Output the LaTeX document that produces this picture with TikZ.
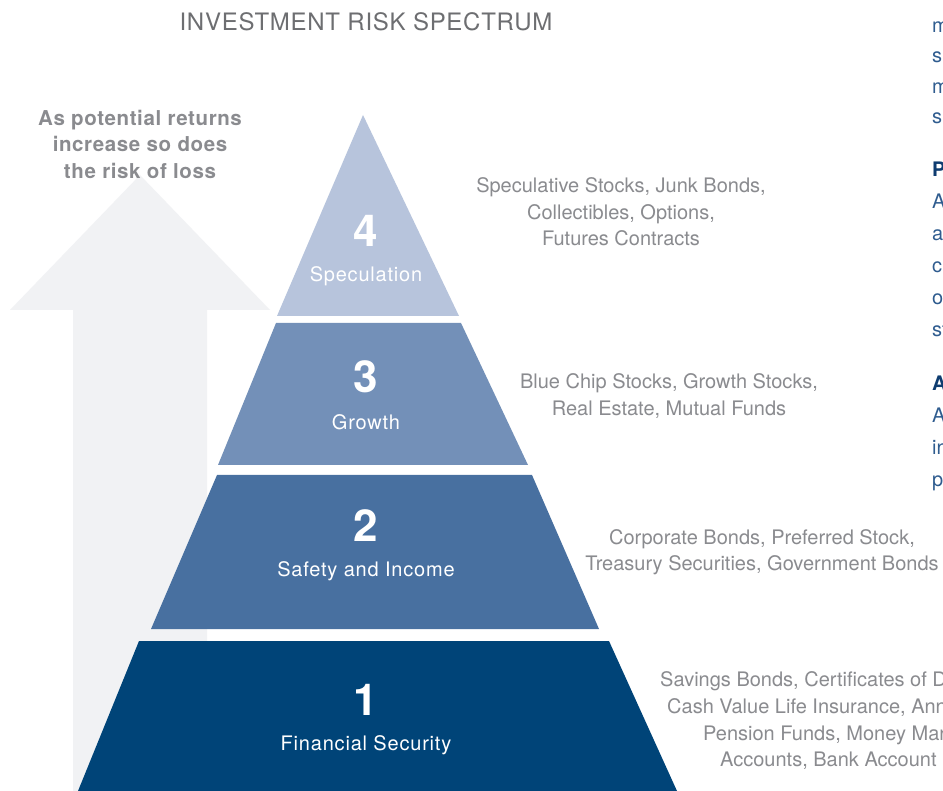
\documentclass[tikz,border=0pt]{standalone}
\usepackage{fontspec}
\setmainfont{TeX Gyre Heros}
\newfontfamily\widefont[LetterSpace=4]{TeX Gyre Heros}
\newfontfamily\notefont[LetterSpace=3]{TeX Gyre Heros}
\usetikzlibrary{calc}
\definecolor{arrowgray}{HTML}{F1F2F4}
\definecolor{textgray}{HTML}{8A8B8F}
\definecolor{titlegray}{HTML}{6D6E71}
\definecolor{tierone}{HTML}{004478}
\definecolor{tiertwo}{HTML}{4870A0}
\definecolor{tierthree}{HTML}{7390B8}
\definecolor{tierfour}{HTML}{B7C4DC}
\definecolor{colblue}{HTML}{2F5C8F}
\definecolor{colnavy}{HTML}{0E3C70}

\begin{document}
\begin{tikzpicture}[x=1pt,y=-1pt,
	num/.style={text=white,font=\fontsize{44}{44}\selectfont\bfseries,inner sep=0pt},
	lab/.style={text=white,font=\widefont\fontsize{20}{24}\selectfont,inner sep=0pt},
	desc/.style={text=textgray,font=\fontsize{20}{26.5}\selectfont,align=center,inner sep=0pt},
	col/.style={text=colblue,font=\fontsize{20}{24}\selectfont,anchor=base west,inner sep=0pt}]
	\useasboundingbox (0,0) rectangle (943,791);
	\fill[white] (0,0) rectangle (943,791);

	\fill[arrowgray] (73,791) -- (73,310) -- (10,310) -- (140,175) -- (270,310) -- (207,310) -- (207,791) -- cycle;

	\fill[tierfour] (363,115) -- (459,316) -- (277,316) -- cycle;
	\fill[tierthree] (276,323) -- (461,323) -- (528,465) -- (218,465) -- cycle;
	\fill[tiertwo] (217,475) -- (532,475) -- (599,629) -- (151,629) -- cycle;
	\fill[tierone] (139,641) -- (609,641) -- (677,791) -- (78,791) -- cycle;

	\node[text=titlegray,font=\notefont\fontsize{24}{24}\selectfont,inner sep=0pt] (title) at (366,22) {INVESTMENT RISK SPECTRUM};
	\node[text=textgray,font=\notefont\fontsize{20.5}{26.5}\selectfont\bfseries,align=center,inner sep=0pt] (note) at (140,144) {As potential returns\\increase so does\\the risk of loss};

	\foreach \n/\y/\lab in {4/231/Speculation, 3/377/Growth, 2/526/Safety and Income, 1/700/Financial Security} {
		\node[num] (num\n) at (366,\y) {\n};
		\node[lab] (lab\n) at (366,\y+45) {\lab};
	}

	\node[desc] (descFour) at (621,212) {Speculative Stocks, Junk Bonds,\\Collectibles, Options,\\Futures Contracts};
	\node[desc] (descThree) at (669,396) {Blue Chip Stocks, Growth Stocks,\\Real Estate, Mutual Funds};
	\node[desc] (descTwo) at (762,552) {Corporate Bonds, Preferred Stock,\\Treasury Securities, Government Bonds};
	\node[desc,anchor=base west] (descOneA) at (660,686) {Savings Bonds, Certificates of D};
	\node[desc,anchor=base west] (descOneB) at (667,713) {Cash Value Life Insurance, Ann};
	\node[desc,anchor=base west] (descOneC) at (703,740) {Pension Funds, Money Mar};
	\node[desc,anchor=base west] (descOneD) at (720,766) {Accounts, Bank Account};

	\foreach \t/\y [count=\i] in {m/33, s/63, m/94, s/124, A/209, a/241, c/273, o/305, st/337, A/423, in/455, p/487}
		\node[col] (col\i) at (932,\y) {\t};
	\node[col,text=colnavy,font=\fontsize{20}{24}\selectfont\bfseries] (headP) at (932,177) {P};
	\node[col,text=colnavy,font=\fontsize{20}{24}\selectfont\bfseries] (headA) at (932,391) {A};
\end{tikzpicture}
\end{document}
